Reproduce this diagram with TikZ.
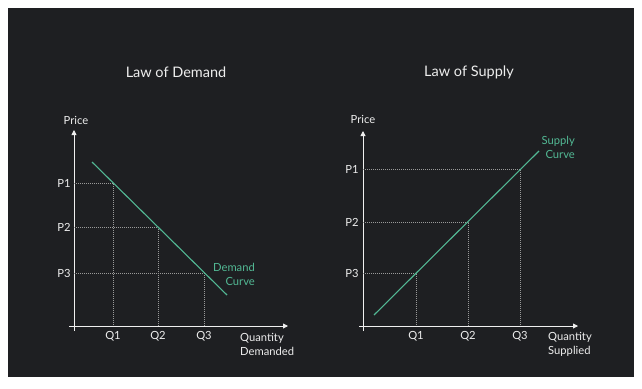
\documentclass[tikz,border=0pt]{standalone}
\usepackage{fontspec}
\setmainfont{Lato}
\usetikzlibrary{arrows.meta}
\definecolor{bg}{HTML}{1E1F22}
\definecolor{curvegreen}{HTML}{52B894}
\definecolor{txt}{HTML}{EDEDED}
\definecolor{guide}{HTML}{9A9A9A}
\begin{document}
\begin{tikzpicture}[x=1pt,y=-1pt,
  axis/.style={draw=txt!90, line width=0.9pt, -{Triangle[length=5pt,width=5pt]}},
  guideline/.style={draw=guide, line width=0.7pt, dash pattern=on 1pt off 1pt},
  curveline/.style={draw=curvegreen, line width=1.1pt},
  lbl/.style={text=txt, font=\fontsize{11.2}{13}\selectfont, inner sep=0pt},
  ttl/.style={text=txt, font=\fontsize{14.5}{17}\selectfont, inner sep=0pt},
  glbl/.style={text=curvegreen, font=\fontsize{11.2}{14}\selectfont, inner sep=0pt, align=right},
  axlbl/.style={text=txt, font=\fontsize{11.2}{14}\selectfont, inner sep=0pt, align=left}]
\useasboundingbox (0,0) rectangle (642,388);
\fill[white] (0,0) rectangle (642,388);
\fill[bg] (8,8) rectangle (634,377);

% ---------- Law of Demand ----------
\node[ttl] (tD) at (176,72) {Law of Demand};
\coordinate (Dybot) at (74,331);
\coordinate (Dytop) at (74,130);
\coordinate (Dxl) at (69,326);
\coordinate (Dxr) at (288,326);
\draw[axis] (Dybot) -- (Dytop);
\draw[axis] (Dxl) -- (Dxr);
\node[lbl] (DPrice) at (76,120) {Price};
\node[lbl] (DP1) at (64,183) {P1};
\node[lbl] (DP2) at (64,227) {P2};
\node[lbl] (DP3) at (64,273) {P3};
\node[lbl] (DQ1) at (113,336) {Q1};
\node[lbl] (DQ2) at (158,336) {Q2};
\node[lbl] (DQ3) at (204,336) {Q3};
\coordinate (DA1) at (113,183);
\coordinate (DA2) at (158,227);
\coordinate (DA3) at (204,273);
\coordinate (DL1) at (74,183);
\coordinate (DL2) at (74,227);
\coordinate (DL3) at (74,273);
\coordinate (DB1) at (113,326);
\coordinate (DB2) at (158,326);
\coordinate (DB3) at (204,326);
\draw[guideline] (DL1) -- (DA1) -- (DB1);
\draw[guideline] (DL2) -- (DA2) -- (DB2);
\draw[guideline] (DL3) -- (DA3) -- (DB3);
\coordinate (Ds) at (92,162);
\coordinate (De) at (227,295);
\draw[curveline] (Ds) -- (De);
\node[glbl, anchor=north east] (Dcurve) at (255,263) {Demand\\Curve};
\node[axlbl, anchor=north west] (Dxlab) at (240,333) {Quantity\\Demanded};

% ---------- Law of Supply ----------
\node[ttl] (tS) at (469,72) {Law of Supply};
\coordinate (Sybot) at (363,331);
\coordinate (Sytop) at (363,131);
\coordinate (Sxl) at (359,326);
\coordinate (Sxr) at (578,326);
\draw[axis] (Sybot) -- (Sytop);
\draw[axis] (Sxl) -- (Sxr);
\node[lbl] (SPrice) at (363,119) {Price};
\node[lbl] (SP1) at (352,169) {P1};
\node[lbl] (SP2) at (352,222) {P2};
\node[lbl] (SP3) at (352,273) {P3};
\node[lbl] (SQ1) at (416,336) {Q1};
\node[lbl] (SQ2) at (468,336) {Q2};
\node[lbl] (SQ3) at (520,336) {Q3};
\coordinate (SA1) at (520,169);
\coordinate (SA2) at (468,222);
\coordinate (SA3) at (416,273);
\coordinate (SL1) at (363,169);
\coordinate (SL2) at (363,222);
\coordinate (SL3) at (363,273);
\coordinate (SB1) at (520,326);
\coordinate (SB2) at (468,326);
\coordinate (SB3) at (416,326);
\draw[guideline] (SL1) -- (SA1) -- (SB1);
\draw[guideline] (SL2) -- (SA2) -- (SB2);
\draw[guideline] (SL3) -- (SA3) -- (SB3);
\coordinate (Ss) at (374,315);
\coordinate (Se) at (539,151);
\draw[curveline] (Ss) -- (Se);
\node[glbl, anchor=north east] (Scurve) at (575,136) {Supply\\Curve};
\node[axlbl, anchor=north west] (Sxlab) at (548,332) {Quantity\\Supplied};
\end{tikzpicture}
\end{document}
